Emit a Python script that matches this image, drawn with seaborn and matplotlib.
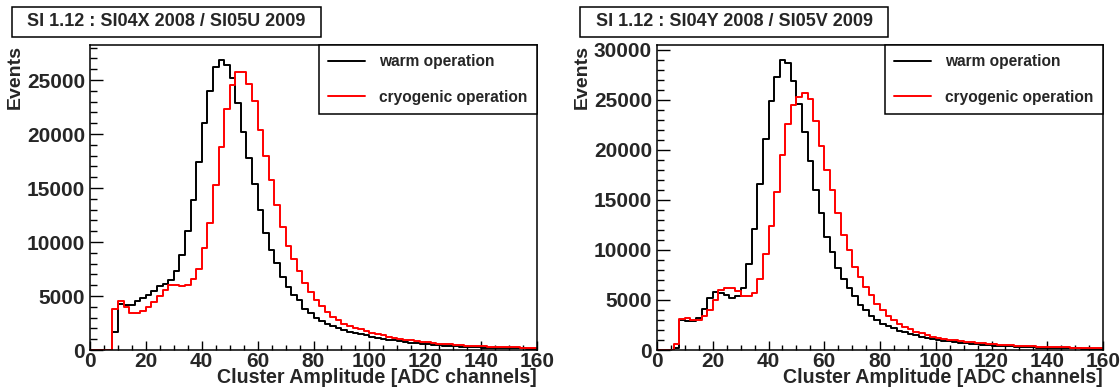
import matplotlib
matplotlib.use("Agg")
import matplotlib.pyplot as plt
from matplotlib.patches import Rectangle
from matplotlib.ticker import MultipleLocator
import numpy as np
import pandas as pd
import seaborn as sns

# histogram binning: 80 bins of 2 ADC channels from 0 to 160
BIN_WIDTH = 2
X_RANGE = (0, 160)

TITLES = ["SI 1.12 : SI04X 2008 / SI05U 2009", "SI 1.12 : SI04Y 2008 / SI05V 2009"]
LABELS = ["warm operation", "cryogenic operation"]

warm_x = [0, 0, 0, 0, 1700, 4300, 4200, 4150, 4500, 4850,
          5100, 5500, 5900, 6100, 6500, 7300, 8800, 11000, 13900, 17400,
          21000, 24000, 26200, 26900, 26400, 25200, 22900, 20200, 17800, 15400,
          13000, 10800, 9300, 8100, 6800, 5800, 5100, 4600, 3800, 3400,
          3000, 2700, 2400, 2200, 2000, 1840, 1700, 1580, 1450, 1350,
          1250, 1150, 1050, 960, 890, 810, 740, 670, 610, 560,
          510, 470, 430, 400, 370, 340, 310, 290, 270, 250,
          230, 210, 200, 185, 175, 165, 155, 145, 135, 125]
cryo_u = [0, 0, 0, 0, 3800, 4500, 4000, 3450, 3400, 3600,
          4000, 4450, 5000, 5600, 6000, 6000, 5950, 6000, 6600, 7500,
          9400, 11800, 15300, 18800, 22300, 24500, 25700, 25700, 24600, 23100,
          20400, 18000, 15700, 13400, 11400, 9600, 8400, 7300, 6200, 5400,
          4650, 4100, 3550, 3100, 2750, 2450, 2250, 2050, 1900, 1750,
          1600, 1480, 1360, 1250, 1150, 1060, 970, 900, 830, 770,
          710, 650, 600, 550, 510, 470, 440, 410, 385, 360,
          340, 320, 300, 280, 265, 250, 235, 220, 205, 190]
warm_y = [0, 0, 0, 200, 3000, 2900, 2900, 3200, 4100, 5200,
          5800, 5700, 5500, 5200, 5400, 6200, 8600, 12100, 16600, 21100,
          24900, 27300, 29000, 28700, 26900, 24600, 21800, 18850, 16000, 13650,
          11250, 9750, 8200, 7100, 6200, 5400, 4500, 4000, 3400, 3000,
          2600, 2400, 2150, 1900, 1750, 1600, 1450, 1300, 1200, 1100,
          1000, 930, 860, 790, 730, 670, 620, 570, 520, 480,
          440, 410, 380, 350, 320, 300, 280, 260, 240, 225,
          210, 195, 180, 170, 160, 150, 140, 130, 120, 110]
cryo_v = [0, 0, 0, 550, 3100, 3200, 3000, 3000, 3350, 4000,
          5000, 6000, 6200, 6200, 5900, 5400, 5350, 5700, 7100, 9550,
          12400, 15800, 19500, 22600, 24500, 25300, 25700, 25100, 22900, 20400,
          18000, 16000, 13700, 11500, 10000, 8300, 7300, 6300, 5500, 4600,
          4000, 3400, 2950, 2600, 2300, 2050, 1800, 1650, 1450, 1300,
          1200, 1110, 1030, 960, 890, 830, 770, 720, 670, 620,
          580, 540, 500, 470, 440, 410, 385, 360, 340, 320,
          300, 280, 265, 250, 235, 220, 205, 190, 175, 160]

PANELS = [(warm_x, cryo_u), (warm_y, cryo_v)]
COLORS = ["#000000", "#ff0000"]

sns.set_theme(style="ticks")
plt.rcParams["font.family"] = ["Liberation Sans", "DejaVu Sans"]
plt.rcParams["font.weight"] = "bold"

W, H = 1120, 387
fig = plt.figure(figsize=(W / 100, H / 100), dpi=100, facecolor="white")

# axes rectangles in pixels: left, right, top, bottom
AX_PX = [(90, 537, 45, 350), (657, 1103, 45, 350)]
BOX_PX = [(12, 321, 7, 37), (580, 888, 7, 37)]

centers = np.arange(X_RANGE[0], X_RANGE[1], BIN_WIDTH) + BIN_WIDTH / 2

for i, (warm, cryo) in enumerate(PANELS):
    l, r, t, b = AX_PX[i]
    ax = fig.add_axes([l / W, 1 - b / H, (r - l) / W, (b - t) / H])
    for counts, color, label in zip((warm, cryo), COLORS, LABELS):
        df = pd.DataFrame({"amp": centers, "events": counts})
        sns.histplot(data=df, x="amp", weights="events", binwidth=BIN_WIDTH,
                     binrange=X_RANGE, element="step", fill=False, color=color,
                     linewidth=1.4, ax=ax, label=label)

    ymax = 1.05 * max(max(warm), max(cryo))
    ax.set_xlim(*X_RANGE)
    ax.set_ylim(0, ymax)
    ax.xaxis.set_major_locator(MultipleLocator(20))
    ax.xaxis.set_minor_locator(MultipleLocator(5))
    ax.yaxis.set_major_locator(MultipleLocator(5000))
    ax.yaxis.set_minor_locator(MultipleLocator(1000))
    ax.tick_params(which="both", direction="in", top=False, right=False,
                   labelsize=15, width=1.0, color="black")
    ax.tick_params(axis="y", which="major", length=9.4, pad=3.6)
    ax.tick_params(axis="y", which="minor", length=5)
    ax.tick_params(axis="x", which="major", length=6.5, pad=1.5)
    ax.tick_params(axis="x", which="minor", length=3.6)
    for lab in ax.get_xticklabels() + ax.get_yticklabels():
        lab.set_fontweight("bold")
    for spine in ax.spines.values():
        spine.set_visible(True)
        spine.set_linewidth(1.1)
        spine.set_color("black")

    ax.set_xlabel("Cluster Amplitude [ADC channels]", loc="right",
                  fontsize=14.1, fontweight="bold", labelpad=-2.5)
    ax.set_ylabel("Events", loc="top", fontsize=14, fontweight="bold")
    ax.yaxis.set_label_coords(-0.148, 1.0)

    leg = ax.legend(loc="upper right", bbox_to_anchor=(1.0, 1.0), borderaxespad=0,
                    fancybox=False, framealpha=1, edgecolor="black",
                    prop={"size": 11.2, "weight": "bold"}, handlelength=2.4,
                    handletextpad=0.9, labelspacing=1.3, borderpad=0.6)
    leg.get_frame().set_linewidth(1.1)

    bl, br, bt, bb = BOX_PX[i]
    fig.add_artist(Rectangle((bl / W, 1 - bb / H), (br - bl) / W, (bb - bt) / H,
                             transform=fig.transFigure, facecolor="white",
                             edgecolor="black", linewidth=1.1))
    fig.text((bl + br) / 2 / W, 1 - (bt + bb) / 2 / H, TITLES[i], ha="center",
             va="center", fontsize=13, fontweight="bold")

fig.savefig("out.png", dpi=100, facecolor="white")
